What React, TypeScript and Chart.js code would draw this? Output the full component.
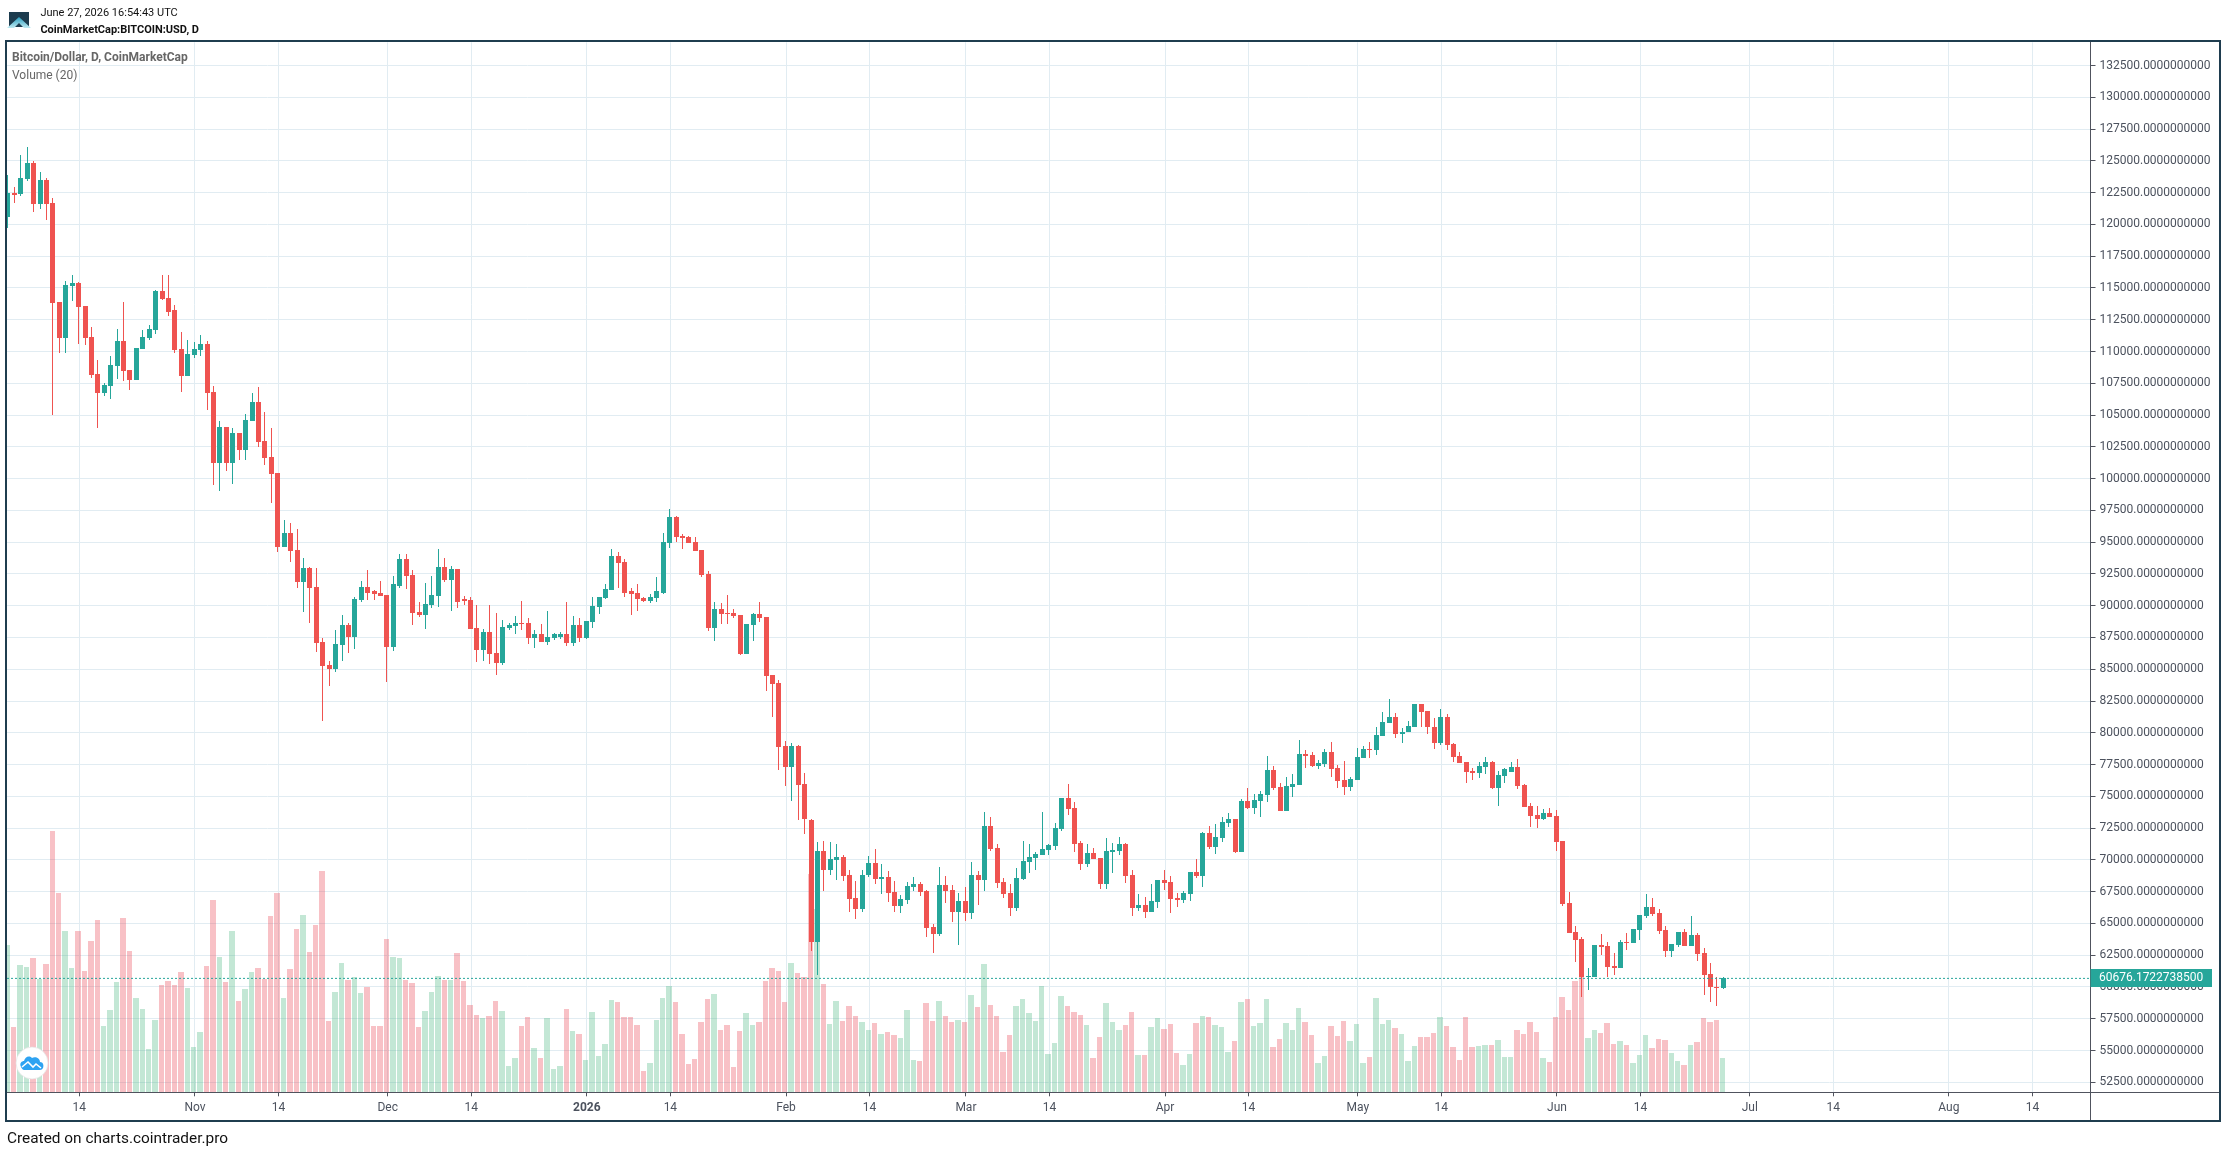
import React, { useEffect, useRef } from 'react';
import Chart from 'chart.js/auto';

// first candle is 11 days before Oct 14 2025, day numbers are counted from that tick
const firstDay = -11;

const opens = [
  120570, 122450, 122370, 123540, 124870, 121590, 123460, 121670, 113930, 111040,
  115180, 115420, 113620, 111120, 108230, 106750, 107290, 108860, 110810, 108540,
  107760, 110180, 111040, 111670, 114790, 114250, 113230, 110180, 108070, 109710,
  110100, 110570, 106820, 101200, 104090, 101200, 103620, 102290, 104560, 106040,
  103000, 101670, 100420, 94640, 95730, 94400, 91900, 93000, 91510, 87140,
  85340, 85030, 86900, 88460, 87530, 90420, 91510, 91120, 91040, 90810,
  86750, 91590, 93700, 92450, 89480, 89250, 90030, 90730, 93070, 92060,
  92920, 90500, 90420, 88230, 86510, 87920, 86280, 85500, 88230, 88380,
  88620, 88620, 87450, 87760, 87140, 87450, 87530, 87760, 87060, 88460,
  87450, 88700, 89870, 90570, 91200, 93930, 93460, 91120, 91040, 90570,
  90340, 90570, 91040, 94950, 96980, 95500, 95420, 95030, 94400, 92530,
  88230, 89710, 89400, 89400, 89240, 86200, 88460, 89320, 89090, 84560,
  83930, 78930, 77290, 78930, 75970, 73150, 63540, 70730, 69170, 70030,
  70260, 68780, 66980, 66120, 68780, 69790, 68460, 68620, 67450, 66350,
  66820, 67840, 68070, 67530, 64710, 64170, 67990, 67600, 65890, 66740,
  65810, 68780, 68390, 72680, 70960, 68230, 67370, 66200, 68460, 69870,
  70180, 70420, 70800, 71120, 72450, 74870, 74090, 71360, 69710, 70570,
  70180, 68070, 70650, 70730, 71280, 68780, 66200, 66430, 65890, 66670,
  68390, 68230, 66980, 66820, 67290, 69010, 68700, 72140, 71040, 71740,
  72910, 73230, 70650, 74640, 74090, 74640, 75100, 77060, 75730, 73850,
  75730, 75880, 78310, 78230, 77370, 77530, 78460, 77210, 76280, 75730,
  76280, 78000, 78700, 78620, 79710, 80800, 81280, 79870, 80030, 80490,
  82290, 81750, 80490, 79170, 81280, 79090, 78150, 77680, 76980, 76820,
  77290, 77680, 75650, 76590, 76900, 77290, 75880, 74240, 73540, 73230,
  73700, 73460, 71510, 66590, 64320, 63780, 60780, 60780, 63310, 63230,
  61670, 61510, 63540, 63460, 64480, 65570, 66280, 65810, 64480, 62840,
  63310, 64320, 63230, 64090, 62680, 61040, 60030, 59950,
];

const closes = [
  122450, 122350, 123620, 124870, 121590, 123460, 121590, 113850, 111040, 115260,
  115420, 113540, 111040, 108150, 106750, 107370, 108930, 110810, 108460, 107760,
  110260, 111120, 111750, 114790, 114170, 113150, 110100, 108070, 109790, 110180,
  110570, 106750, 101200, 104090, 101200, 103620, 102290, 104640, 106040, 102920,
  101590, 100340, 94640, 95730, 94320, 91900, 93000, 91430, 87060, 85260,
  85030, 86980, 88460, 87530, 90500, 91510, 91040, 90960, 90730, 86750,
  91670, 93700, 92370, 89400, 89250, 90110, 90810, 93070, 92060, 92920,
  90320, 90340, 88150, 86510, 87920, 86200, 85500, 88310, 88460, 88620,
  88540, 87450, 87760, 87140, 87530, 87760, 87760, 87060, 88460, 87450,
  88780, 89950, 90650, 91280, 93930, 93380, 91040, 90960, 90490, 90340,
  90650, 91120, 95030, 96980, 95420, 95340, 94950, 94320, 92450, 88230,
  89710, 89320, 89320, 89170, 86200, 88540, 89320, 89010, 84480, 83850,
  78850, 77290, 78930, 75890, 73230, 63540, 70730, 69170, 70100, 70260,
  68700, 66900, 66120, 68850, 69790, 68460, 68620, 67370, 66350, 66900,
  67920, 68070, 67450, 64640, 64170, 67990, 67530, 65890, 66740, 65810,
  68780, 68390, 72680, 70880, 68150, 67290, 66200, 68540, 69950, 70260,
  70490, 70880, 71200, 72520, 74870, 74010, 71280, 69710, 70570, 70100,
  68070, 70730, 70810, 71280, 68700, 66200, 66430, 65890, 66740, 68390,
  68150, 66900, 66820, 67370, 69010, 68700, 72140, 71040, 71820, 72990,
  73230, 70650, 74640, 74090, 74710, 75180, 77060, 75650, 73850, 75810,
  75960, 78310, 78150, 77370, 77600, 78460, 77130, 76200, 75730, 76350,
  78070, 78700, 78620, 79790, 80880, 81280, 79870, 80100, 80570, 82290,
  81670, 80420, 79170, 81280, 79010, 78070, 77600, 76900, 76820, 77370,
  77680, 75650, 76670, 77130, 77290, 75810, 74170, 73460, 73230, 73700,
  73380, 71430, 66510, 64240, 63700, 60780, 60890, 63310, 63150, 61590,
  61510, 63540, 63460, 64560, 65650, 66280, 65730, 64400, 62840, 63390,
  64320, 63230, 64090, 62600, 60960, 60030, 59980, 60676,
];

const highs = [
  123930, 122920, 125500, 126120, 125000, 124090, 123620, 122060, 113930, 115570,
  116040, 115490, 113620, 111900, 109320, 107530, 109640, 111750, 113930, 108540,
  110300, 111670, 112060, 114870, 116040, 116040, 113700, 111510, 110890, 110730,
  111280, 110810, 107290, 104560, 104090, 104010, 103620, 105100, 106750, 107210,
  105260, 104010, 100420, 96750, 96510, 96040, 93780, 93080, 93000, 87450,
  85650, 88070, 89250, 88620, 90650, 91980, 92840, 91220, 91980, 90810,
  92370, 94090, 94090, 92840, 90260, 91750, 92370, 94480, 93780, 93150,
  92920, 90730, 90650, 90030, 88150, 90030, 89400, 88850, 88620, 89170,
  90340, 89010, 88070, 88540, 89560, 87840, 87920, 90260, 89170, 89010,
  88800, 90650, 90650, 91670, 94480, 94240, 93700, 91430, 91670, 90650,
  90960, 92290, 95730, 97600, 97060, 95650, 95500, 95420, 94400, 92760,
  90260, 90180, 90880, 89710, 89240, 88540, 89400, 90260, 89090, 84560,
  84170, 79320, 79170, 79010, 76820, 73230, 71430, 71510, 71430, 71280,
  70420, 69170, 68310, 69170, 70340, 70880, 69710, 69090, 68310, 67210,
  68230, 68620, 68230, 67600, 64950, 69480, 68700, 67990, 67370, 67840,
  69870, 69090, 73780, 73380, 71280, 68540, 68070, 69400, 71510, 71280,
  70650, 73780, 71280, 72910, 74870, 75960, 74560, 71510, 71280, 70960,
  70180, 71740, 71350, 71820, 71350, 69170, 67290, 67060, 68070, 68390,
  69240, 68700, 67370, 67530, 69050, 70100, 72200, 72680, 72840, 73380,
  73700, 73230, 74790, 75650, 75180, 75420, 78150, 77370, 76040, 76510,
  76740, 79400, 78620, 78460, 77840, 78700, 79240, 77450, 77760, 76510,
  78770, 78930, 79240, 80490, 81670, 82680, 81590, 80340, 80960, 82290,
  82290, 81750, 81200, 81900, 81510, 79170, 78460, 77680, 77210, 77680,
  78070, 77760, 76980, 77210, 77680, 77920, 75960, 74480, 74240, 74010,
  74090, 73930, 71510, 67450, 64790, 63930, 61510, 63310, 64170, 63540,
  62680, 63700, 64240, 64560, 65650, 67290, 66980, 66120, 64790, 63390,
  64320, 64560, 65570, 64240, 63070, 61900, 60780, 60750,
];

const lows = [
  119710, 121670, 122210, 123390, 120960, 121200, 120340, 105000, 109870, 109870,
  114010, 110570, 110500, 107920, 104010, 106490, 106300, 107840, 107680, 106980,
  107760, 110180, 110890, 111350, 114090, 112760, 109870, 106820, 108070, 109480,
  109640, 105420, 99480, 99010, 100570, 99560, 101430, 101430, 104560, 102450,
  101040, 98070, 94250, 94640, 93460, 91430, 89480, 88620, 86360, 80890,
  83700, 84790, 85650, 86280, 86590, 90260, 90420, 90420, 90730, 84010,
  86430, 91430, 91350, 88460, 89090, 88150, 89790, 89870, 91900, 89560,
  89790, 90030, 88150, 85570, 85650, 85420, 84560, 85340, 88070, 87760,
  88070, 86980, 86670, 87140, 86900, 87300, 87370, 86820, 86820, 87140,
  87370, 88230, 89320, 90490, 91200, 91430, 90650, 89240, 89560, 90260,
  90180, 90260, 90960, 94560, 95030, 94480, 94950, 94320, 92290, 87990,
  87210, 88540, 88540, 89010, 86120, 86200, 87210, 88700, 83310, 81280,
  77060, 75810, 74640, 73150, 72060, 62840, 60960, 67530, 68850, 68390,
  68310, 65890, 65340, 65890, 68620, 68070, 67290, 66670, 65890, 65810,
  66510, 67530, 67140, 63930, 62680, 64010, 66590, 65100, 63310, 65180,
  65340, 66430, 67530, 70730, 67760, 66980, 65570, 65960, 68380, 68930,
  69170, 70420, 70420, 70800, 72290, 73540, 70650, 69170, 69480, 70100,
  67680, 67680, 68930, 70420, 68150, 65570, 65960, 65420, 65890, 66200,
  67600, 65810, 66280, 66590, 66750, 68540, 67840, 70880, 70490, 71430,
  72600, 70570, 70650, 74010, 73620, 73380, 74560, 75490, 73850, 73850,
  74950, 75880, 77210, 77290, 77130, 77290, 76510, 75650, 75100, 75420,
  76280, 78000, 78000, 78230, 79710, 80800, 79560, 79170, 80030, 80490,
  80490, 79870, 78700, 79010, 78620, 77680, 77600, 76040, 76280, 76430,
  76740, 75570, 74240, 76040, 76900, 75570, 74170, 72600, 72520, 73150,
  73380, 70730, 66350, 64240, 61980, 59250, 59790, 60780, 62520, 60780,
  60960, 61510, 62920, 63460, 63700, 65420, 65570, 64170, 62370, 62370,
  63150, 63230, 63230, 62060, 59400, 58780, 58470, 59870,
];

// volume in billions
const volumes = [
  44.2, 19.6, 38.2, 37.6, 40.3, 34.0, 38.5, 78.4, 59.8, 48.4,
  37.3, 48.4, 36.4, 45.4, 51.7, 19.9, 24.7, 33.1, 52.3, 42.4,
  28.3, 25.0, 13.0, 21.7, 32.2, 33.4, 32.2, 36.1, 31.3, 13.6,
  18.1, 37.9, 57.7, 40.6, 33.1, 48.4, 27.4, 31.0, 36.1, 37.3,
  34.0, 52.9, 59.8, 28.3, 37.0, 49.0, 53.2, 42.1, 50.2, 66.4,
  21.4, 30.1, 38.8, 33.7, 34.6, 29.8, 31.6, 19.9, 19.9, 46.0,
  40.6, 40.3, 33.7, 32.8, 19.6, 24.4, 30.1, 34.9, 33.7, 33.7,
  41.8, 33.4, 26.2, 23.2, 22.3, 22.9, 27.4, 24.4, 7.9, 10.3,
  19.9, 22.6, 13.3, 10.3, 22.3, 7.0, 7.9, 25.0, 18.4, 17.5,
  9.7, 24.1, 10.9, 14.5, 27.7, 27.1, 22.6, 22.6, 20.2, 6.4,
  8.8, 21.7, 28.3, 31.9, 27.1, 17.5, 8.5, 10.0, 21.1, 28.0,
  29.5, 18.7, 20.2, 7.6, 18.4, 23.8, 20.2, 21.1, 33.4, 37.3,
  36.4, 27.1, 38.8, 35.8, 34.6, 65.5, 55.0, 32.5, 20.5, 27.4,
  21.4, 25.9, 22.9, 21.1, 18.7, 20.8, 17.5, 18.1, 17.2, 16.3,
  24.7, 9.7, 9.4, 26.8, 21.4, 27.4, 22.9, 21.1, 21.7, 21.1,
  29.2, 25.6, 38.5, 26.2, 22.9, 12.1, 17.2, 25.9, 28.0, 23.8,
  21.4, 31.9, 11.5, 14.8, 28.9, 25.9, 24.1, 23.2, 20.2, 10.3,
  16.6, 26.8, 21.1, 18.7, 20.2, 24.1, 11.2, 11.2, 19.6, 22.3,
  19.0, 20.5, 11.8, 8.2, 11.5, 20.8, 22.9, 22.6, 20.2, 19.6,
  12.1, 15.4, 27.1, 28.0, 19.9, 20.8, 28.0, 13.6, 16.0, 20.8,
  18.7, 25.3, 21.1, 17.2, 8.8, 10.9, 19.9, 16.9, 21.4, 15.4,
  20.5, 8.8, 10.6, 28.3, 20.5, 21.7, 19.3, 17.5, 9.4, 13.9,
  16.6, 16.6, 17.8, 22.6, 19.9, 13.6, 9.7, 22.6, 13.6, 13.9,
  14.2, 14.2, 15.7, 10.6, 10.6, 18.7, 17.5, 21.1, 18.1, 10.3,
  9.1, 22.6, 28.6, 24.7, 33.4, 37.0, 16.3, 18.7, 17.8, 20.8,
  14.5, 15.4, 14.2, 8.8, 11.2, 17.2, 13.3, 16.0, 15.7, 11.8,
  9.4, 8.2, 14.2, 15.1, 22.3, 21.1, 21.7, 10.3,
];

const xTickDays = [0, 18, 31, 48, 61, 79, 92, 110, 123, 138, 151, 169, 182, 199, 212, 230, 243, 260, 273, 291, 304];
const xTickLabels = ['14', 'Nov', '14', 'Dec', '14', '2026', '14', 'Feb', '14', 'Mar', '14', 'Apr', '14', 'May', '14', 'Jun', '14', 'Jul', '14', 'Aug', '14'];
const priceTicks = [
  52500, 55000, 57500, 60000, 62500, 65000, 67500, 70000, 72500, 75000, 77500,
  80000, 82500, 85000, 87500, 90000, 92500, 95000, 97500, 100000, 102500, 105000,
  107500, 110000, 112500, 115000, 117500, 120000, 122500, 125000, 127500, 130000, 132500,
];
const lastPrice = 60676.17227385;

const UP = '#26a69a';
const DOWN = '#ef5350';
const UP_VOL = 'rgba(83,185,135,0.35)';
const DOWN_VOL = 'rgba(235,77,92,0.35)';
const GRID = '#e1ecf2';
const AXIS = '#50535e';
const FRAME = '#1f3d4f';
const TEXT = '#4c525e';
const FONT = 'Roboto';

const xMin = -11.253;
const xMax = 313.04;

const days = opens.map((_, i) => firstDay + i);
const isUp = opens.map((o, i) => closes[i] >= o);

// snap the bars to whole pixels, the original chart draws them that way
const snapBars = {
  id: 'snapBars',
  beforeDatasetsDraw(chart: any) {
    const xs = chart.scales.x;
    chart.data.datasets.forEach((ds: any, d: number) => {
      if (ds.type === 'line') return;
      const meta = chart.getDatasetMeta(d);
      const ys = chart.scales[ds.yAxisID];
      meta.data.forEach((el: any, i: number) => {
        const raw = xs.getPixelForValue(days[i]);
        if (ds.label === 'Volume') {
          const left = Math.round(raw - 4);
          const next = Math.round(xs.getPixelForValue(days[i] + 1) - 4);
          el.width = next - left - 1;
          el.x = left + el.width / 2;
          el.base = Math.round(ys.getPixelForValue(0));
          el.y = Math.round(ys.getPixelForValue(volumes[i]));
          return;
        }
        el.x = Math.floor(raw - 0.7) + 0.5;
        const [a, b] = ds.data[i].y;
        const top = Math.round(ys.getPixelForValue(Math.max(a, b)));
        const bottom = Math.round(ys.getPixelForValue(Math.min(a, b)));
        el.y = top;
        el.base = bottom === top ? top + 1 : bottom;
      });
    });
  },
};

const frame = {
  id: 'frame',
  afterDraw(chart: any) {
    const { ctx } = chart;
    const area = chart.chartArea;
    const y = chart.scales.y.getPixelForValue(lastPrice);
    ctx.save();
    ctx.strokeStyle = AXIS;
    ctx.lineWidth = 1;
    ctx.beginPath();
    ctx.moveTo(2090.5, area.top);
    ctx.lineTo(2090.5, 1120);
    ctx.moveTo(7, 1092.5);
    ctx.lineTo(2219, 1092.5);
    ctx.stroke();
    ctx.fillStyle = UP;
    ctx.fillRect(2090.5, Math.round(y) - 9, 121.5, 18);
    ctx.fillStyle = '#ffffff';
    ctx.font = `12px ${FONT}`;
    ctx.textBaseline = 'middle';
    ctx.fillText(lastPrice.toFixed(10), 2099, Math.round(y));
    ctx.strokeStyle = FRAME;
    ctx.lineWidth = 2;
    ctx.strokeRect(6, 41, 2214, 1080);
    ctx.restore();
  },
};

const textStyle = (left: number, top: number, size: number, color: string, bold = false): React.CSSProperties => ({
  position: 'absolute',
  left,
  top,
  fontFamily: FONT,
  fontSize: size,
  lineHeight: '16px',
  color,
  fontWeight: bold ? 700 : 400,
  whiteSpace: 'nowrap',
});

const App: React.FC = () => {
  const canvasRef = useRef<HTMLCanvasElement | null>(null);

  useEffect(() => {
    const ctx = canvasRef.current?.getContext('2d');
    if (!ctx) return;

    const chart = new Chart(ctx, {
      type: 'bar',
      data: {
        datasets: [
          {
            type: 'line',
            label: 'Last',
            data: [{ x: xMin, y: lastPrice }, { x: xMax, y: lastPrice }],
            borderColor: UP,
            borderWidth: 1,
            borderDash: [2, 2],
            pointRadius: 0,
            yAxisID: 'y',
            order: 1,
          },
          {
            label: 'Bitcoin/Dollar',
            data: days.map((d, i) => ({ x: d, y: [opens[i], closes[i]] })),
            backgroundColor: isUp.map((u) => (u ? UP : DOWN)),
            barThickness: 5,
            yAxisID: 'y',
            order: 2,
          },
          {
            label: 'Wick',
            data: days.map((d, i) => ({ x: d, y: [lows[i], highs[i]] })),
            backgroundColor: isUp.map((u) => (u ? UP : DOWN)),
            barThickness: 1,
            yAxisID: 'y',
            order: 3,
          },
          {
            label: 'Volume',
            data: days.map((d, i) => ({ x: d, y: volumes[i] })),
            backgroundColor: isUp.map((u) => (u ? UP_VOL : DOWN_VOL)),
            barThickness: 5,
            yAxisID: 'vol',
            order: 4,
          },
        ] as any,
      },
      options: {
        responsive: false,
        animation: false,
        devicePixelRatio: 1,
        events: [],
        layout: { padding: { left: 7, top: 42.3, right: 0, bottom: 0 } },
        datasets: { bar: { grouped: false, inflateAmount: 0, borderWidth: 0 } },
        plugins: { legend: { display: false }, tooltip: { enabled: false } },
        scales: {
          x: {
            type: 'linear',
            min: xMin,
            max: xMax,
            offset: false,
            grid: { color: GRID, offset: false, tickColor: AXIS, tickLength: 4, lineWidth: 1 },
            border: { color: AXIS },
            afterBuildTicks: (s: any) => {
              s.ticks = xTickDays.map((v) => ({ value: v }));
            },
            afterFit: (s: any) => {
              s.height = 59.7;
            },
            ticks: {
              autoSkip: false,
              maxRotation: 0,
              padding: 4,
              color: TEXT,
              callback: (_v: any, i: number) => xTickLabels[i],
              font: (c: any) => ({ family: FONT, size: 12, weight: c.index === 5 ? 'bold' : 'normal' }),
            },
          },
          y: {
            type: 'linear',
            position: 'right',
            min: 51713,
            max: 134333,
            grid: { color: GRID, tickColor: AXIS, tickLength: 5, lineWidth: 1 },
            border: { color: AXIS },
            afterBuildTicks: (s: any) => {
              s.ticks = priceTicks.map((v) => ({ value: v }));
            },
            afterFit: (s: any) => {
              s.width = 135.5;
            },
            ticks: {
              autoSkip: false,
              padding: 4,
              color: TEXT,
              font: { family: FONT, size: 12 },
              callback: (v: any) => Number(v).toFixed(10),
            },
          },
          // volume pane shares the plot, scale only sets how tall the bars get
          vol: { type: 'linear', display: false, min: 0, max: 315.1 },
        },
      } as any,
      plugins: [snapBars, frame],
    });

    return () => {
      chart.destroy();
    };
  }, []);

  return (
    <div style={{ position: 'absolute', left: 0, top: 0, width: 2226, height: 1152, background: '#fff', overflow: 'hidden' }}>
      <canvas ref={canvasRef} width={2226} height={1152} style={{ position: 'absolute', left: 0, top: 0 }} />
      <svg width={28} height={22} style={{ position: 'absolute', left: 7, top: 10 }} viewBox="0 0 28 22">
        <defs>
          <linearGradient id="logoFade" x1="0" y1="0" x2="0" y2="1">
            <stop offset="0" stopColor="#2a9fc0" />
            <stop offset="1" stopColor="#bfeaf2" />
          </linearGradient>
        </defs>
        <rect x={2} y={2} width={20} height={15} fill="#1c3b4e" />
        <path d="M0 18 L12 7 L24 18 L17 18 L12 13 L7 18 Z" fill="url(#logoFade)" />
      </svg>
      <div style={textStyle(40.4, 5, 11, '#111')}>June 27, 2026 16:54:43 UTC</div>
      <div style={textStyle(40.4, 22, 11, '#111', true)}>CoinMarketCap:BITCOIN:USD, D</div>
      <div style={textStyle(12, 49, 12, '#666', true)}>Bitcoin/Dollar, D, CoinMarketCap</div>
      <div style={textStyle(12, 67, 12, '#666')}>Volume (20)</div>
      <div style={textStyle(7, 1130, 15.4, '#111')}>Created on charts.cointrader.pro</div>
      <svg width={36} height={36} style={{ position: 'absolute', left: 13.5, top: 1044.5 }} viewBox="0 0 36 36">
        <circle cx={18} cy={18} r={16} fill="#fff" stroke="#e4e4e4" strokeWidth={0.7} />
        <path d="M7 22 C5 18 8 16 10 16 C11 12 15 10 18 13 C21 11 26 13 26 17 C29 17 30 20 29 23 C28 25 26 25 25 25 L10 25 C9 25 8 24 7 22 Z" fill="#2ea3f2" />
        <path d="M8 22 L14 17 L19 22 L22 19 L27 23" fill="none" stroke="#fff" strokeWidth={1.6} />
      </svg>
    </div>
  );
};

export default App;
